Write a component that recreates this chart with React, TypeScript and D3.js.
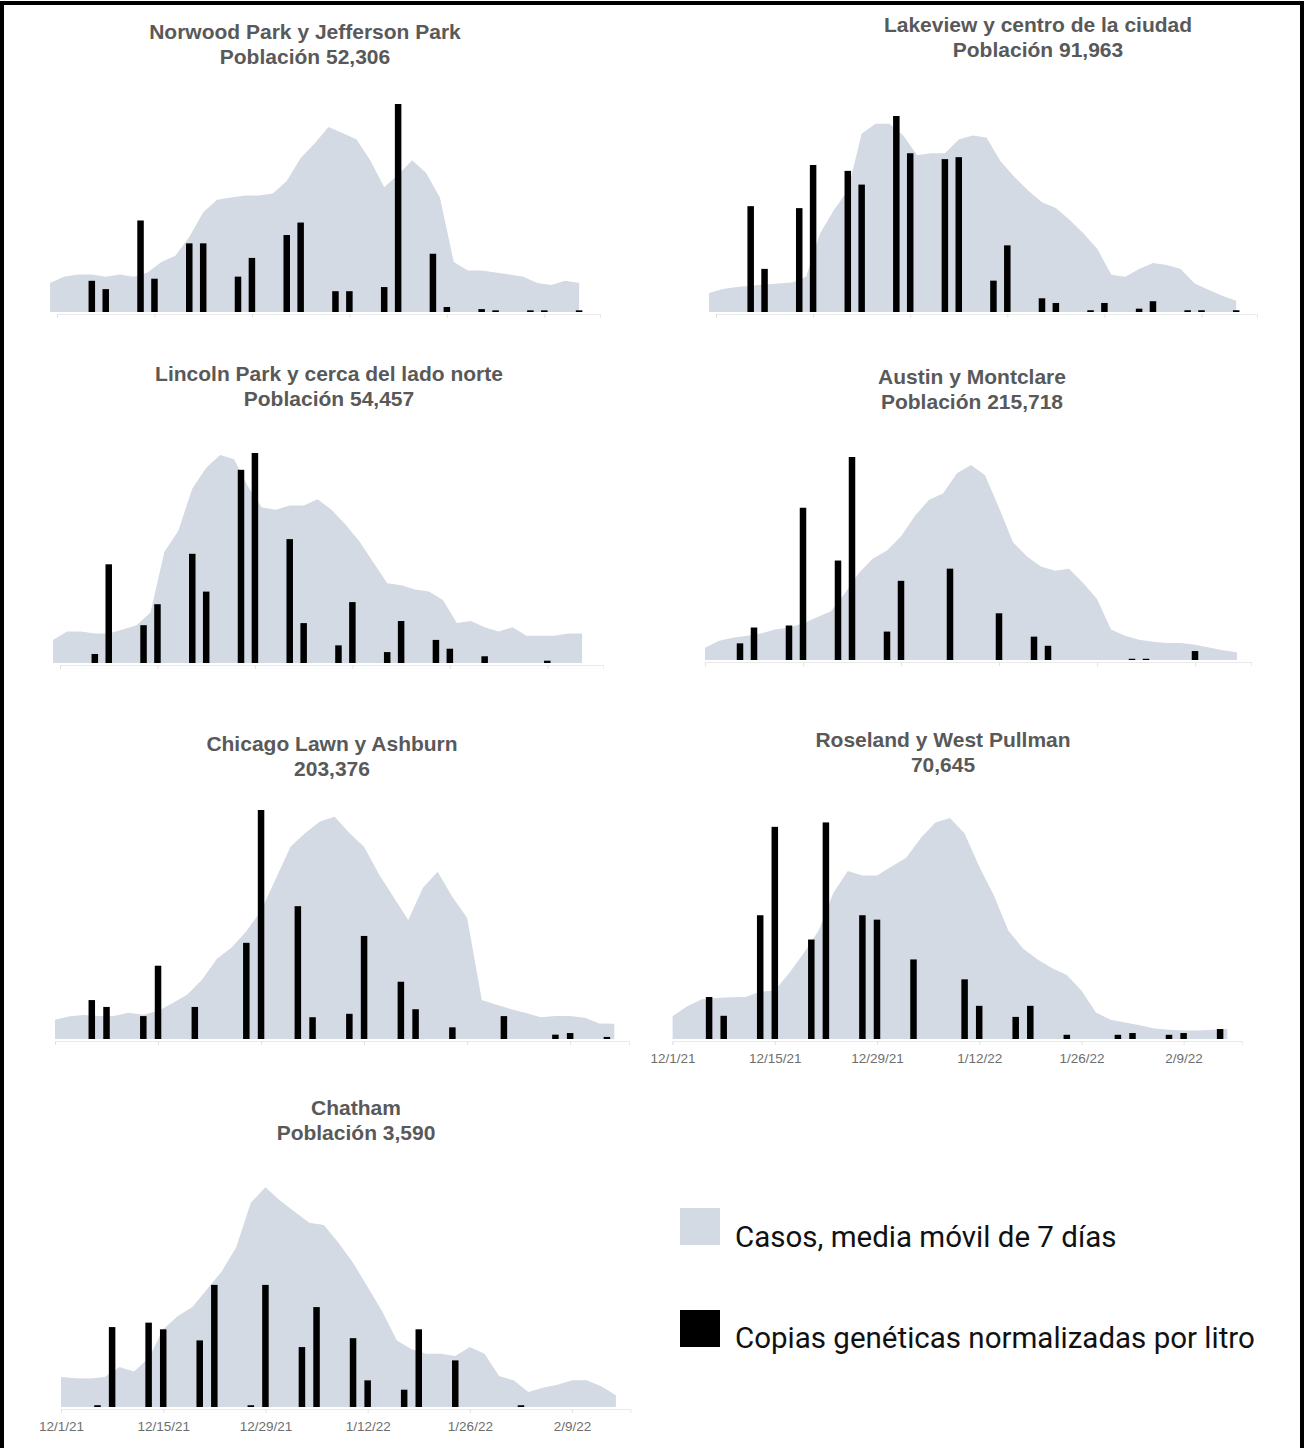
import React, { useEffect, useRef } from 'react';
import * as d3 from 'd3';

// wastewater sample days (mon / wed), shared by every panel
const sampleDates = [
  '2021-12-06', '2021-12-08', '2021-12-13', '2021-12-15', '2021-12-20', '2021-12-22',
  '2021-12-27', '2021-12-29', '2022-01-03', '2022-01-05', '2022-01-10', '2022-01-12',
  '2022-01-17', '2022-01-19', '2022-01-24', '2022-01-26', '2022-01-31', '2022-02-02',
  '2022-02-07', '2022-02-09', '2022-02-14'
];

const tickDates = ['2021-12-01', '2021-12-15', '2021-12-29', '2022-01-12', '2022-01-26', '2022-02-09'];

// cases (7 day avg) read every 2nd day, relative to panel max (0-100)
const norwoodCases = [14, 17, 18, 18, 17, 18, 17, 19, 24, 27, 36, 48, 54, 55, 56, 56, 57, 63, 74, 81, 89, 86, 83, 73, 60, 66, 73, 67, 55, 24, 20, 20, 19, 18, 17, 14, 13, 15, 14];
const lakeviewCases = [9.7, 11.7, 12.8, 13.4, 14, 14.5, 15, 18, 40, 52, 62, 91, 96, 96, 90, 80, 81, 81, 88, 90, 89, 77, 69, 62, 56, 53, 47, 40, 32, 19, 18, 22, 25, 24, 22, 14.5, 11.4, 8.3, 5.8];
const lincolnCases = [11, 15, 15, 14, 14, 16, 18, 24, 53, 63, 83, 93, 99, 97, 84, 74, 73, 75, 75, 78, 73, 66, 58, 48, 38, 37, 35, 34, 30, 19, 20, 17, 15, 17, 13, 13, 13, 14, 14];
const austinCases = [6, 9.5, 11, 12, 13, 15, 16, 18, 21, 24, 33, 43, 50, 54, 61, 71, 79, 82, 92, 96, 91, 75, 58, 51, 46, 44, 45, 38, 30, 15, 12, 10, 9, 8.4, 8.4, 7.5, 6.2, 4.8, 3.8];
const chicagoLawnCases = [8.4, 9.9, 10.5, 10, 10, 11.5, 10.6, 12.2, 15.7, 19.4, 26, 35, 40, 47, 56, 70, 84, 90, 95, 97, 90, 84, 72, 62, 52, 66, 73, 62, 53, 17, 15, 13, 11.4, 9.5, 10, 10, 9.3, 6.8, 6.7];
const roselandCases = [10.3, 14.8, 18, 18.6, 18.9, 19, 21.4, 21.9, 30, 39, 49, 66, 76, 74, 74, 78, 82, 91, 98, 100, 93, 78, 65, 49, 41, 36, 32, 29, 22, 12, 8.7, 7.5, 6.2, 4.8, 4.2, 3.9, 3.9, 4.2, 4.5];
const chathamCases = [13.5, 13, 12.8, 13.5, 18, 16, 22, 35, 41, 45, 53, 61, 72, 92, 99, 93, 88, 83, 82, 74, 65, 54, 43, 30, 26, 24, 24, 23, 27, 24, 14, 12, 6.8, 8.7, 10, 12, 12, 9.3, 5.3];

// gene copies per litre, one value per sample date (null = no sample)
const norwoodCopies = [15, 11, 44, 16, 33, 33, 17, 26, 37, 43, 10, 10, 12, 100, 28, 2.4, 1.4, 0.8, 0.8, 0.8, 0.8];
const lakeviewCopies = [54, 22, 53, 75, 72, 65, 100, 81, 78, 79, 16, 34, 7, 4.6, 0.9, 4.6, 1.7, 5.5, 0.9, 0.9, 0.9];
const lincolnCopies = [4.3, 47, 18, 28, 52, 34, 92, 100, 59, 19, 8.4, 29, 5.2, 20, 11, 6.8, 3.2, null, null, 1.1, null];
const austinCopies = [8.2, 16, 17, 75, 49, 100, 14, 39, null, 45, null, 23, 11.5, 7, null, null, 0.6, 0.6, null, 4.4, null];
const chicagoLawnCopies = [17, 14, 10, 32, 14, null, 42, 100, 58, 9.5, 11, 45, 25, 13, 5.1, null, 10, null, 1.9, 2.6, 0.9];
const roselandCopies = [19, 10.5, 56, 96, 45, 98, 56, 54, 36, null, 27, 15, 10, 15, 1.9, null, 1.9, 2.7, 1.9, 2.7, 4.5];
const chathamCopies = [0.8, 36, 38, 35, 30, 55, 0.8, 55, 27, 45, 31, 12, 7.8, 35, 21, null, null, 0.8, null, null, null];

const legendLabels = ['Casos, media móvil de 7 días', 'Copias genéticas normalizadas por litro'];

const AREA = '#d3dae3';
const TITLE = '#595959';

// layout of the 7 small multiples
const panels = [
  { title: 'Norwood Park y Jefferson Park', sub: 'Población 52,306', cases: norwoodCases, start: '2021-11-30', copies: norwoodCopies,
    xr: [57, 600], base: 312, h: 208, tx: 305, ty: 39, labels: false },
  { title: 'Lakeview y centro de la ciudad', sub: 'Población 91,963', cases: lakeviewCases, start: '2021-11-30', copies: lakeviewCopies,
    xr: [716, 1257], base: 312, h: 196, tx: 1038, ty: 32, labels: false },
  { title: 'Lincoln Park y cerca del lado norte', sub: 'Población 54,457', cases: lincolnCases, start: '2021-11-30', copies: lincolnCopies,
    xr: [60, 603], base: 663, h: 210, tx: 329, ty: 381, labels: false },
  { title: 'Austin y Montclare', sub: 'Población 215,718', cases: austinCases, start: '2021-12-01', copies: austinCopies,
    xr: [705, 1251], base: 660, h: 203, tx: 972, ty: 384, labels: false },
  { title: 'Chicago Lawn y Ashburn', sub: '203,376', cases: chicagoLawnCases, start: '2021-12-01', copies: chicagoLawnCopies,
    xr: [55, 629], base: 1039, h: 229, tx: 332, ty: 751, labels: false },
  { title: 'Roseland y West Pullman', sub: '70,645', cases: roselandCases, start: '2021-12-01', copies: roselandCopies,
    xr: [672.6, 1242], base: 1039, h: 221, tx: 943, ty: 747, labels: true },
  { title: 'Chatham', sub: 'Población 3,590', cases: chathamCases, start: '2021-12-01', copies: chathamCopies,
    xr: [61, 630.5], base: 1407, h: 222, tx: 356, ty: 1115, labels: true },
];

export default function App() {
  const ref = useRef<SVGSVGElement>(null);

  useEffect(() => {
    const svg = d3.select(ref.current);
    svg.selectAll('*').remove();

    const parse = d3.timeParse('%Y-%m-%d');
    const samples = sampleDates.map(d => parse(d) as Date);
    const ticks = tickDates.map(d => parse(d) as Date);
    const domain = [parse('2021-12-01') as Date, parse('2022-02-17') as Date];
    const fmt = d3.timeFormat('%-m/%-d/%y');

    svg.append('rect').attr('width', 1307).attr('height', 1448).attr('fill', '#fff');

    panels.forEach(p => {
      const x = d3.scaleTime().domain(domain).range(p.xr);
      const y = d3.scaleLinear().domain([0, 100]).range([p.base, p.base - p.h]);
      const start = parse(p.start) as Date;
      const cases = p.cases.map((v, i) => ({ date: d3.timeDay.offset(start, i * 2), v }));

      const g = svg.append('g');

      //cases area
      const area = d3.area<{ date: Date; v: number }>()
        .x(d => x(d.date))
        .y0(y(0))
        .y1(d => y(d.v));
      g.append('path').datum(cases).attr('d', area).attr('fill', AREA);

      //faint date axis
      const axis = d3.axisBottom(x)
        .tickValues(ticks)
        .tickSize(4)
        .tickPadding(8)
        .tickFormat(d => (p.labels ? fmt(d as Date) : ''));
      const ax = g.append('g').attr('transform', `translate(0,${p.base + 2})`).call(axis);
      ax.select('.domain').attr('stroke', '#e9e9e9');
      ax.selectAll('.tick line').attr('stroke', '#e2e2e2');
      ax.selectAll('.tick text')
        .attr('fill', '#6e6e6e')
        .style('font-family', '"Liberation Sans", Arial, sans-serif')
        .style('font-size', '13.5px');

      //gene copies bars
      const bars = samples
        .map((date, i) => ({ date, v: p.copies[i] }))
        .filter(d => d.v != null) as { date: Date; v: number }[];
      g.selectAll('rect.bar').data(bars).enter().append('rect')
        .attr('class', 'bar')
        .attr('x', d => x(d.date) - 3.25)
        .attr('width', 6.5)
        .attr('y', d => y(d.v))
        .attr('height', d => y(0) - y(d.v))
        .attr('fill', '#000');

      //titles
      const t = g.append('text')
        .attr('text-anchor', 'middle')
        .attr('fill', TITLE)
        .style('font-family', '"Liberation Sans", Arial, sans-serif')
        .style('font-weight', 'bold')
        .style('font-size', '21px');
      t.append('tspan').attr('x', p.tx).attr('y', p.ty).text(p.title);
      t.append('tspan').attr('x', p.tx).attr('y', p.ty + 25).text(p.sub);
    });

    //legend
    const legend = svg.append('g');
    const colors = [AREA, '#000'];
    legendLabels.forEach((label, i) => {
      legend.append('rect')
        .attr('x', 680).attr('y', 1208 + i * 102)
        .attr('width', 40).attr('height', 37)
        .attr('fill', colors[i]);
      legend.append('text')
        .attr('x', 735).attr('y', 1247 + i * 101)
        .attr('fill', '#111')
        .style('font-family', 'Roboto, sans-serif')
        .style('font-size', '29.5px')
        .text(label);
    });

    //frame
    svg.append('path')
      .attr('d', 'M2,1448 V3 H1302 V1448')
      .attr('fill', 'none')
      .attr('stroke', '#000')
      .attr('stroke-width', 4);
  }, []);

  return (
    <svg
      ref={ref}
      width={1307}
      height={1448}
      style={{ position: 'absolute', left: 0, top: 0, display: 'block' }}
    />
  );
}
